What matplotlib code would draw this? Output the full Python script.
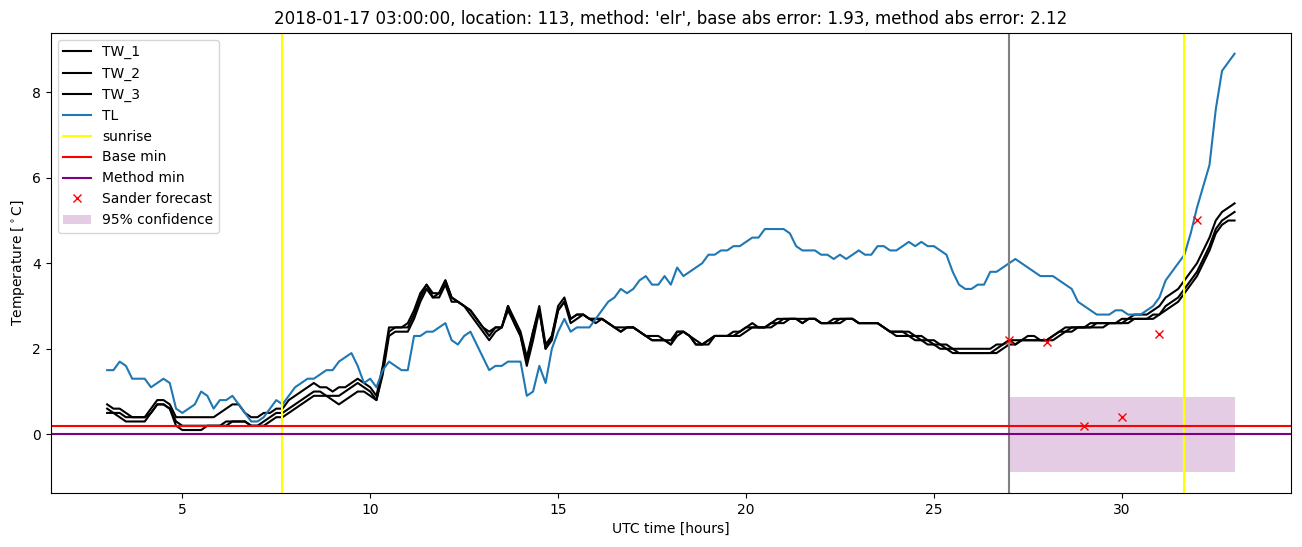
import numpy as np
import matplotlib
matplotlib.use("Agg")
import matplotlib.pyplot as plt

# 10-minute steps from 03:00 to 33:00 UTC
hours = 3 + np.arange(181) / 6.0

tw_1 = [0.7, 0.6, 0.6, 0.5, 0.4, 0.4, 0.4, 0.6, 0.8, 0.8, 0.7, 0.4,
        0.4, 0.4, 0.4, 0.4, 0.4, 0.4, 0.5, 0.6, 0.7, 0.7, 0.5, 0.4,
        0.4, 0.5, 0.5, 0.6, 0.6, 0.8, 0.9, 1.0, 1.1, 1.2, 1.1, 1.1,
        1.0, 1.1, 1.1, 1.2, 1.3, 1.2, 1.1, 0.9, 1.6, 2.5, 2.5, 2.5,
        2.6, 2.9, 3.3, 3.5, 3.3, 3.3, 3.6, 3.2, 3.1, 3.0, 2.9, 2.7,
        2.5, 2.4, 2.5, 2.5, 3.0, 2.7, 2.4, 1.8, 2.4, 3.0, 2.1, 2.3,
        3.0, 3.2, 2.7, 2.8, 2.8, 2.7, 2.7, 2.7, 2.6, 2.5, 2.5, 2.5,
        2.5, 2.4, 2.3, 2.3, 2.3, 2.2, 2.2, 2.4, 2.4, 2.3, 2.2, 2.1,
        2.2, 2.3, 2.3, 2.3, 2.4, 2.4, 2.5, 2.6, 2.5, 2.5, 2.6, 2.7,
        2.7, 2.7, 2.7, 2.7, 2.7, 2.7, 2.6, 2.6, 2.7, 2.7, 2.7, 2.7,
        2.6, 2.6, 2.6, 2.6, 2.5, 2.4, 2.4, 2.4, 2.4, 2.3, 2.3, 2.2,
        2.2, 2.1, 2.1, 2.0, 2.0, 2.0, 2.0, 2.0, 2.0, 2.0, 2.1, 2.1,
        2.2, 2.1, 2.2, 2.3, 2.3, 2.2, 2.2, 2.3, 2.4, 2.5, 2.5, 2.5,
        2.5, 2.6, 2.6, 2.6, 2.6, 2.6, 2.7, 2.7, 2.8, 2.8, 2.8, 2.9,
        3.0, 3.2, 3.3, 3.4, 3.6, 3.8, 4.0, 4.3, 4.6, 5.0, 5.2, 5.3,
        5.4]

tw_2 = [0.6, 0.5, 0.5, 0.4, 0.4, 0.4, 0.4, 0.5, 0.7, 0.7, 0.6, 0.3,
        0.2, 0.2, 0.2, 0.2, 0.2, 0.2, 0.2, 0.3, 0.3, 0.3, 0.3, 0.2,
        0.2, 0.3, 0.4, 0.5, 0.5, 0.6, 0.7, 0.8, 0.9, 1.0, 1.0, 0.9,
        0.9, 0.9, 1.0, 1.1, 1.2, 1.1, 1.0, 0.8, 1.5, 2.4, 2.5, 2.5,
        2.5, 2.8, 3.2, 3.5, 3.2, 3.3, 3.6, 3.2, 3.1, 3.0, 2.9, 2.7,
        2.5, 2.3, 2.5, 2.5, 3.0, 2.6, 2.3, 1.7, 2.4, 2.9, 2.0, 2.3,
        2.9, 3.1, 2.7, 2.8, 2.8, 2.7, 2.7, 2.7, 2.6, 2.5, 2.4, 2.5,
        2.5, 2.4, 2.3, 2.2, 2.2, 2.2, 2.1, 2.4, 2.4, 2.3, 2.1, 2.1,
        2.2, 2.3, 2.3, 2.3, 2.3, 2.4, 2.5, 2.5, 2.5, 2.5, 2.6, 2.6,
        2.7, 2.7, 2.7, 2.6, 2.7, 2.7, 2.6, 2.6, 2.6, 2.7, 2.7, 2.7,
        2.6, 2.6, 2.6, 2.6, 2.5, 2.4, 2.4, 2.4, 2.3, 2.3, 2.2, 2.2,
        2.1, 2.1, 2.0, 2.0, 1.9, 1.9, 1.9, 1.9, 1.9, 1.9, 2.0, 2.1,
        2.2, 2.2, 2.2, 2.2, 2.2, 2.2, 2.2, 2.3, 2.4, 2.4, 2.5, 2.5,
        2.5, 2.5, 2.6, 2.6, 2.6, 2.6, 2.6, 2.7, 2.7, 2.7, 2.7, 2.8,
        2.8, 3.0, 3.1, 3.2, 3.4, 3.6, 3.8, 4.1, 4.4, 4.8, 5.0, 5.1,
        5.2]

tw_3 = [0.5, 0.5, 0.4, 0.3, 0.3, 0.3, 0.3, 0.5, 0.7, 0.7, 0.6, 0.2,
        0.1, 0.1, 0.1, 0.1, 0.2, 0.2, 0.2, 0.2, 0.3, 0.3, 0.3, 0.2,
        0.2, 0.2, 0.3, 0.4, 0.4, 0.5, 0.6, 0.7, 0.8, 0.9, 0.9, 0.9,
        0.8, 0.7, 0.8, 0.9, 1.0, 1.0, 0.9, 0.8, 1.4, 2.3, 2.4, 2.4,
        2.4, 2.7, 3.1, 3.4, 3.2, 3.2, 3.5, 3.1, 3.1, 3.0, 2.8, 2.6,
        2.4, 2.2, 2.4, 2.5, 2.9, 2.6, 2.3, 1.6, 2.2, 2.9, 2.0, 2.2,
        2.9, 3.1, 2.6, 2.7, 2.8, 2.7, 2.6, 2.7, 2.6, 2.5, 2.4, 2.5,
        2.5, 2.4, 2.3, 2.2, 2.2, 2.2, 2.1, 2.3, 2.4, 2.3, 2.1, 2.1,
        2.1, 2.3, 2.3, 2.3, 2.3, 2.3, 2.4, 2.5, 2.5, 2.5, 2.5, 2.6,
        2.6, 2.7, 2.7, 2.6, 2.7, 2.7, 2.6, 2.6, 2.6, 2.6, 2.7, 2.7,
        2.6, 2.6, 2.6, 2.6, 2.5, 2.4, 2.3, 2.3, 2.3, 2.2, 2.2, 2.1,
        2.1, 2.0, 2.0, 1.9, 1.9, 1.9, 1.9, 1.9, 1.9, 1.9, 1.9, 2.0,
        2.1, 2.1, 2.2, 2.2, 2.2, 2.2, 2.2, 2.2, 2.3, 2.4, 2.4, 2.5,
        2.5, 2.5, 2.5, 2.5, 2.6, 2.6, 2.6, 2.6, 2.7, 2.7, 2.7, 2.7,
        2.8, 2.9, 3.0, 3.1, 3.3, 3.5, 3.7, 4.0, 4.3, 4.7, 4.9, 5.0,
        5.0]

tl = [1.5, 1.5, 1.7, 1.6, 1.3, 1.3, 1.3, 1.1, 1.2, 1.3, 1.2, 0.6,
      0.5, 0.6, 0.7, 1.0, 0.9, 0.6, 0.8, 0.8, 0.9, 0.7, 0.5, 0.3,
      0.3, 0.4, 0.6, 0.8, 0.7, 0.9, 1.1, 1.2, 1.3, 1.3, 1.4, 1.5,
      1.5, 1.7, 1.8, 1.9, 1.6, 1.2, 1.3, 1.1, 1.5, 1.7, 1.6, 1.5,
      1.5, 2.3, 2.3, 2.4, 2.4, 2.5, 2.6, 2.2, 2.1, 2.3, 2.4, 2.1,
      1.8, 1.5, 1.6, 1.6, 1.7, 1.7, 1.7, 0.9, 1.0, 1.6, 1.2, 2.0,
      2.4, 2.7, 2.4, 2.5, 2.5, 2.5, 2.7, 2.9, 3.1, 3.2, 3.4, 3.3,
      3.4, 3.6, 3.7, 3.5, 3.5, 3.7, 3.5, 3.9, 3.7, 3.8, 3.9, 4.0,
      4.2, 4.2, 4.3, 4.3, 4.4, 4.4, 4.5, 4.6, 4.6, 4.8, 4.8, 4.8,
      4.8, 4.7, 4.4, 4.3, 4.3, 4.3, 4.2, 4.2, 4.1, 4.2, 4.1, 4.2,
      4.3, 4.2, 4.2, 4.4, 4.4, 4.3, 4.3, 4.4, 4.5, 4.4, 4.5, 4.4,
      4.4, 4.3, 4.2, 3.8, 3.5, 3.4, 3.4, 3.5, 3.5, 3.8, 3.8, 3.9,
      4.0, 4.1, 4.0, 3.9, 3.8, 3.7, 3.7, 3.7, 3.6, 3.5, 3.4, 3.1,
      3.0, 2.9, 2.8, 2.8, 2.8, 2.9, 2.9, 2.8, 2.8, 2.8, 2.9, 3.0,
      3.2, 3.6, 3.8, 4.0, 4.2, 4.7, 5.3, 5.8, 6.3, 7.6, 8.5, 8.7,
      8.9]

sunrise_hours = [7.65, 31.65]
forecast_start = 27.0
base_min = 0.2
method_min = 0.0

sander_hours = [27, 28, 29, 30, 31, 32]
sander_values = [2.2, 2.15, 0.2, 0.4, 2.35, 5.0]

conf_hours = [27.0, 33.0]
conf_low = -0.88
conf_high = 0.88

title = ("2018-01-17 03:00:00, location: 113, method: 'elr', "
         "base abs error: 1.93, method abs error: 2.12")

fig, ax = plt.subplots(figsize=(13.02, 5.47), dpi=100)

ax.plot(hours, tw_1, color='black', label='TW_1')
ax.plot(hours, tw_2, color='black', label='TW_2')
ax.plot(hours, tw_3, color='black', label='TW_3')
ax.plot(hours, tl, color='C0', label='TL')

for i, s in enumerate(sunrise_hours):
    ax.axvline(s, color='yellow', label='sunrise' if i == 0 else None)
ax.axvline(forecast_start, color='gray')

ax.axhline(base_min, color='red', label='Base min')
ax.axhline(method_min, color='purple', label='Method min')

ax.plot(sander_hours, sander_values, 'x', color='red', label='Sander forecast')
ax.fill_between(conf_hours, conf_low, conf_high, color='purple', alpha=0.2,
                linewidth=0, label='95% confidence')

ax.set_title(title)
ax.set_xlabel('UTC time [hours]')
ax.set_ylabel(r'Temperature [$^\circ$C]')
ax.legend(loc='upper left')

plt.subplots_adjust(left=0.039, right=0.9915, bottom=0.099, top=0.94)
plt.savefig('out.png', dpi=100)
